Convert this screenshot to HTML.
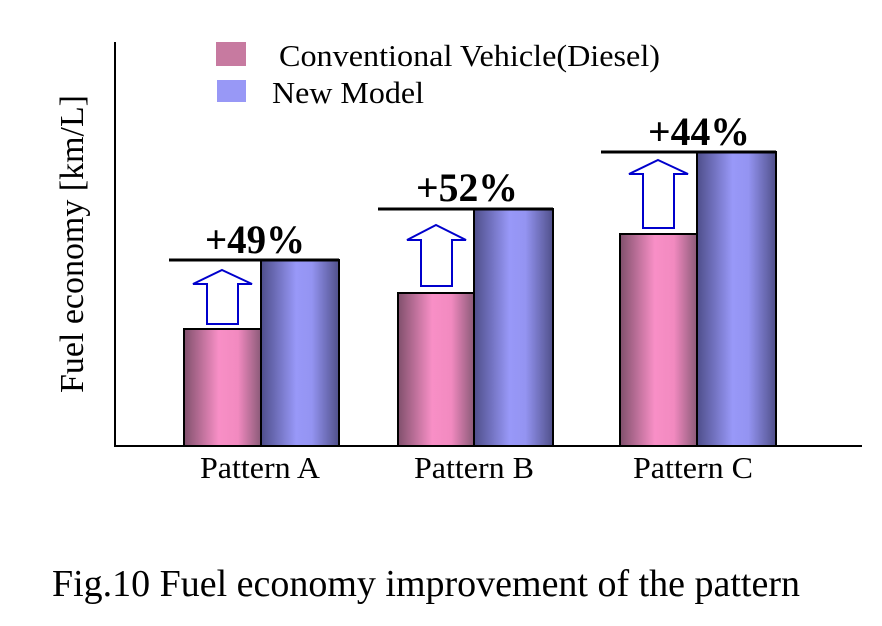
<!DOCTYPE html>
<html><head><meta charset="utf-8"><style>
body{margin:0;background:#fff}
</style></head><body>
<svg width="882" height="621" viewBox="0 0 882 621" xmlns="http://www.w3.org/2000/svg" font-family="Liberation Serif, serif">
<defs>
<linearGradient id="pk" x1="0" x2="1" y1="0" y2="0">
<stop offset="0" stop-color="#80506c"/><stop offset="0.45" stop-color="#f88fc6"/><stop offset="0.7" stop-color="#f28ac0"/><stop offset="1" stop-color="#8a5a78"/>
</linearGradient>
<linearGradient id="bl" x1="0" x2="1" y1="0" y2="0">
<stop offset="0" stop-color="#4e4e8a"/><stop offset="0.45" stop-color="#9898f8"/><stop offset="0.65" stop-color="#9494f2"/><stop offset="1" stop-color="#50508a"/>
</linearGradient>
</defs>
<line x1="115" y1="42" x2="115" y2="447" stroke="#000" stroke-width="2"/>
<line x1="114" y1="446" x2="862" y2="446" stroke="#000" stroke-width="2"/>
<g stroke="#000" stroke-width="2">
<rect x="184" y="329" width="77" height="117" fill="url(#pk)"/>
<rect x="261" y="260" width="78" height="186" fill="url(#bl)"/>
<rect x="398" y="293" width="76" height="153" fill="url(#pk)"/>
<rect x="474" y="209" width="79" height="237" fill="url(#bl)"/>
<rect x="620" y="234" width="77" height="212" fill="url(#pk)"/>
<rect x="697" y="152" width="79" height="294" fill="url(#bl)"/>
<line x1="169" y1="260" x2="339" y2="260" stroke-width="3"/>
<line x1="378" y1="209" x2="553" y2="209" stroke-width="3"/>
<line x1="601" y1="152" x2="776" y2="152" stroke-width="3"/>
</g>
<g fill="#fff" stroke="#0000cc" stroke-width="2">
<polygon points="222,270 252,284 238,284 238,324 207,324 207,284 193,284"/>
<polygon points="436,225 466,240 452,240 452,286 421,286 421,240 407,240"/>
<polygon points="658,160 688,174 674,174 674,228 643,228 643,174 629,174"/>
</g>
<g font-weight="bold" font-size="40">
<text x="205" y="253" textLength="100" lengthAdjust="spacingAndGlyphs">+49%</text>
<text x="416" y="201" textLength="102" lengthAdjust="spacingAndGlyphs">+52%</text>
<text x="648" y="145" textLength="102" lengthAdjust="spacingAndGlyphs">+44%</text>
</g>
<rect x="216" y="42" width="30" height="24" fill="#c77aa0"/>
<rect x="217" y="80" width="29" height="22" fill="#9898f6"/>
<g font-size="31">
<text x="279" y="66" textLength="381" lengthAdjust="spacingAndGlyphs">Conventional Vehicle(Diesel)</text>
<text x="272" y="103" textLength="152" lengthAdjust="spacingAndGlyphs">New Model</text>
</g>
<text transform="translate(83,244) rotate(-90)" font-size="34" text-anchor="middle" textLength="298" lengthAdjust="spacingAndGlyphs">Fuel economy [km/L]</text>
<g font-size="31">
<text x="200" y="478" textLength="120" lengthAdjust="spacingAndGlyphs">Pattern A</text>
<text x="414" y="478" textLength="120" lengthAdjust="spacingAndGlyphs">Pattern B</text>
<text x="633" y="478" textLength="120" lengthAdjust="spacingAndGlyphs">Pattern C</text>
</g>
<text x="52" y="596" font-size="38" textLength="748" lengthAdjust="spacingAndGlyphs">Fig.10 Fuel economy improvement of the pattern</text>
</svg>
</body></html>
